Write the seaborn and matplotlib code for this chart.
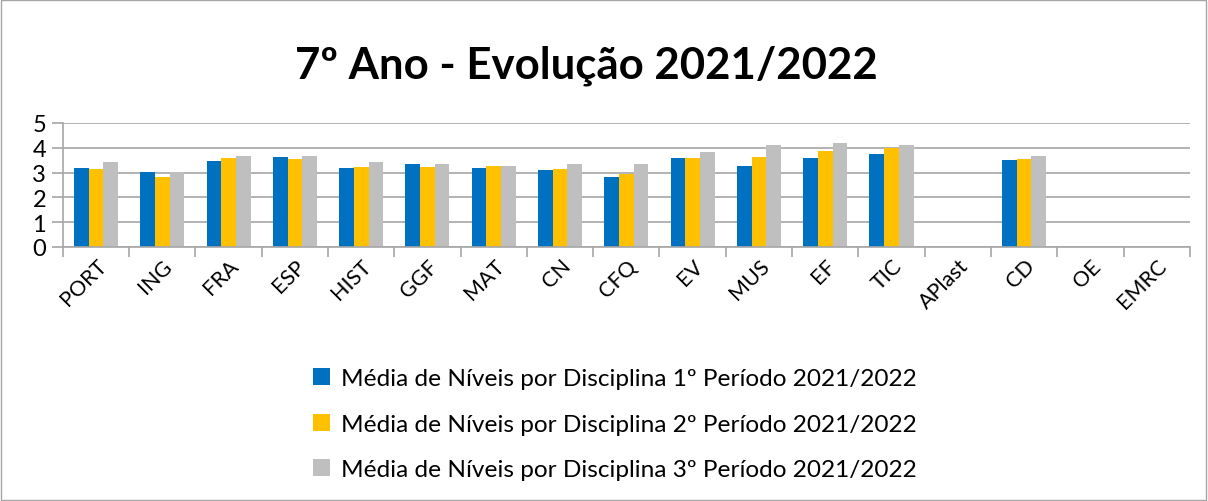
import numpy as np
import pandas as pd
import matplotlib
matplotlib.use("Agg")
import matplotlib.pyplot as plt
import seaborn as sns

disciplinas = ["PORT", "ING", "FRA", "ESP", "HIST", "GGF", "MAT", "CN", "CFQ",
               "EV", "MUS", "EF", "TIC", "APlast", "CD", "OE", "EMRC"]

periodo1 = [3.18, 3.02, 3.48, 3.64, 3.17, 3.34, 3.17, 3.09, 2.84,
            3.57, 3.25, 3.58, 3.76, np.nan, 3.52, np.nan, np.nan]
periodo2 = [3.15, 2.83, 3.58, 3.54, 3.21, 3.21, 3.26, 3.14, 2.94,
            3.57, 3.61, 3.89, 3.99, np.nan, 3.56, np.nan, np.nan]
periodo3 = [3.44, 3.02, 3.68, 3.65, 3.41, 3.34, 3.26, 3.34, 3.34,
            3.83, 4.10, 4.19, 4.11, np.nan, 3.68, np.nan, np.nan]

series_names = [
    "Média de Níveis por Disciplina 1º Período 2021/2022",
    "Média de Níveis por Disciplina 2º Período 2021/2022",
    "Média de Níveis por Disciplina 3º Período 2021/2022",
]
colors = ["#0070C0", "#FFC000", "#BFBFBF"]

# long-form table for seaborn
rows = []
for name, vals in zip(series_names, [periodo1, periodo2, periodo3]):
    for d, v in zip(disciplinas, vals):
        rows.append({"Disciplina": d, "Série": name, "Média": v})
df = pd.DataFrame(rows)

sns.set_style("white")
plt.rcParams["font.family"] = ["Lato", "DejaVu Sans"]
plt.rcParams["text.color"] = "black"
plt.rcParams["xtick.labelcolor"] = "black"
plt.rcParams["ytick.labelcolor"] = "black"

fig = plt.figure(figsize=(12.08, 5.02), dpi=100)
ax = fig.add_axes([0.052, 0.506, 0.933, 0.247])

sns.barplot(
    data=df,
    x="Disciplina",
    y="Média",
    hue="Série",
    order=disciplinas,
    hue_order=series_names,
    palette=colors,
    width=0.665,
    saturation=1,
    linewidth=0,
    ax=ax,
    legend=True
)

# --------------------------------
# AXES STYLE
# --------------------------------
ax.set_ylim(0, 5)
ax.set_xlim(-0.5, len(disciplinas) - 0.5)
ax.set_yticks(range(6))
ax.yaxis.grid(True, color="#A6A6A6", linewidth=1.2)
ax.set_axisbelow(True)
for s in ["top", "right"]:
    ax.spines[s].set_visible(False)
for s in ["left", "bottom"]:
    ax.spines[s].set_color("#A6A6A6")
    ax.spines[s].set_linewidth(1.2)

ax.set_xlabel("")
ax.set_ylabel("")
ax.tick_params(axis="y", labelsize=17, length=8, color="#A6A6A6",
               width=1.2, left=True, pad=4)
ax.set_xticks(np.arange(-0.5, len(disciplinas)), minor=True)
ax.tick_params(axis="x", which="minor", length=7, color="#A6A6A6",
               width=1.2, bottom=True)
ax.tick_params(axis="x", which="major", length=0, labelsize=15.5, pad=6)
plt.setp(ax.get_xticklabels(), rotation=45, ha="right",
         rotation_mode="anchor")

# --------------------------------
# TITLE + LEGEND
# --------------------------------
fig.text(0.4855, 0.87, "7º Ano - Evolução 2021/2022", ha="center",
         va="center", fontsize=31.5, fontweight="bold")

handles, labels = ax.get_legend_handles_labels()
ax.legend_.remove()
fig.legend(handles, labels, loc="center", bbox_to_anchor=(0.509, 0.153),
           frameon=False, fontsize=17.6, handlelength=0.7,
           handleheight=0.7, labelspacing=1.0, handletextpad=0.45)

# outer border
fig.patches.append(plt.Rectangle((0.001, 0.001), 0.997, 0.997,
                                 transform=fig.transFigure, fill=False,
                                 edgecolor="#A6A6A6", linewidth=1))

plt.savefig("out.png", dpi=100)
plt.close()
